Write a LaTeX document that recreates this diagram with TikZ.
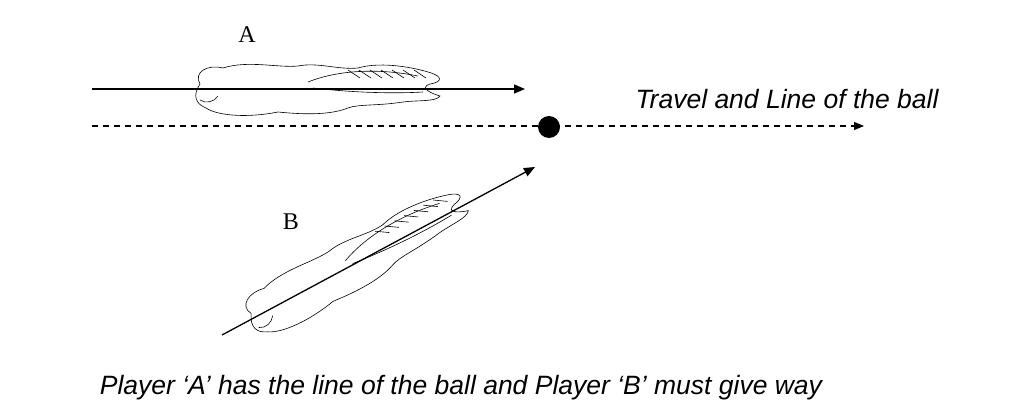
\documentclass[tikz,border=0pt]{standalone}
\usepackage{fontspec}
\setsansfont{Liberation Sans}
\setmainfont{Liberation Serif}
\usetikzlibrary{arrows.meta}
\begin{document}
\begin{tikzpicture}[x=1pt,y=-1pt,
  arr/.style={line width=1.3pt,-{Triangle[length=11pt,width=9pt]}},
  dsh/.style={line width=1.1pt,dash pattern=on 6pt off 5pt,-{Triangle[length=10pt,width=8pt]}},
  horse/.style={line width=0.6pt},
  lbl/.style={font=\fontsize{24}{26}\selectfont\rmfamily},
  txt/.style={font=\fontsize{26.5}{30}\selectfont\sffamily\itshape}]
\useasboundingbox (0,0) rectangle (1034,420);
\newcommand{\horseshape}{%
  \draw[horse] (-118,-6) .. controls (-125,-18) and (-110,-26) .. (-95,-22)
    .. controls (-70,-30) and (-40,-22) .. (-20,-24)
    .. controls (0,-28) and (20,-20) .. (40,-22)
    .. controls (60,-28) and (90,-24) .. (110,-18)
    .. controls (125,-14) and (125,-8) .. (112,-6)
    .. controls (100,-2) and (115,4) .. (122,6)
    .. controls (118,12) and (100,10) .. (85,12)
    .. controls (60,16) and (40,14) .. (30,18)
    .. controls (10,26) and (-20,24) .. (-40,22)
    .. controls (-70,28) and (-100,26) .. (-112,18)
    .. controls (-122,14) and (-126,6) .. (-118,-6) -- cycle;
  \draw[horse] (-10,-8) .. controls (20,-20) and (60,-22) .. (100,-14);
  \draw[horse] (-5,-2) .. controls (30,2) and (70,4) .. (105,2);
  \draw[horse] (-118,10) .. controls (-112,14) and (-104,12) .. (-100,6);
  \foreach \i in {0,...,6}{\draw[horse] (30+\i*11,-20) -- (42+\i*11,-12);}
}
\node[lbl] (la) at (247,35) {A};
\node[lbl] (lb) at (291,222) {B};
\begin{scope}[shift={(318,90)}]\horseshape\end{scope}
\begin{scope}[shift={(358,263)},rotate=28.2]\horseshape\end{scope}
\coordinate (a1) at (92,89); \coordinate (a2) at (525,89);
\draw[arr] (a1) -- (a2);
\coordinate (d1) at (92,126); \coordinate (d2) at (864,126);
\draw[dsh] (d1) -- (d2);
\node[circle,fill=black,minimum size=22pt,inner sep=0pt] (ball) at (549,127) {};
\coordinate (b1) at (222,335); \coordinate (b2) at (535,167);
\draw[arr] (b1) -- (b2);
\node[txt] (t1) at (787,99) {Travel and Line of the ball};
\node[txt] (t2) at (461,388) {Player ‘A’ has the line of the ball and Player ‘B’ must give way};
\end{tikzpicture}
\end{document}
